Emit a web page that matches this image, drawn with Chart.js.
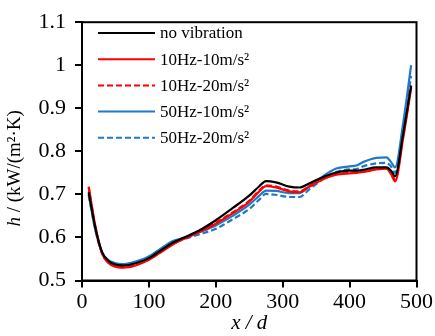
<!DOCTYPE html>
<html>
<head>
<meta charset="utf-8">
<script src="https://cdn.jsdelivr.net/npm/chart.js@4.4.1/dist/chart.umd.min.js"></script>
<style>
	html, body { margin: 0; padding: 0; background: #fff; }
	#wrap { width: 435px; height: 336px; }
</style>
</head>
<body>
<div id="wrap"><canvas id="hChart"></canvas></div>
<script>
// x/d positions shared by all curves
var xPos = [10, 20, 30, 40, 50, 60, 70, 80, 100, 120, 135, 150, 175, 200, 225, 250, 265, 275, 290, 310, 325, 340, 360, 380, 400, 410, 420, 440, 455, 462, 468, 480, 492];

var noVibration = [0.705, 0.622, 0.566, 0.545, 0.537, 0.535, 0.536, 0.540, 0.552, 0.572, 0.587, 0.598, 0.616, 0.640, 0.668, 0.697, 0.719, 0.731, 0.728, 0.718, 0.716, 0.726, 0.740, 0.751, 0.755, 0.755, 0.757, 0.763, 0.763, 0.755, 0.742, 0.840, 0.953];
var hz10_10 = [0.718, 0.626, 0.563, 0.540, 0.532, 0.530, 0.531, 0.535, 0.548, 0.568, 0.583, 0.595, 0.612, 0.632, 0.656, 0.683, 0.707, 0.719, 0.716, 0.707, 0.705, 0.718, 0.735, 0.746, 0.749, 0.750, 0.752, 0.758, 0.760, 0.747, 0.730, 0.830, 0.948];
var hz10_20 = [0.716, 0.624, 0.563, 0.541, 0.533, 0.531, 0.532, 0.536, 0.549, 0.569, 0.584, 0.596, 0.613, 0.634, 0.658, 0.685, 0.709, 0.721, 0.718, 0.709, 0.707, 0.719, 0.736, 0.747, 0.750, 0.751, 0.753, 0.759, 0.761, 0.750, 0.735, 0.835, 0.950];
var hz50_10 = [0.700, 0.618, 0.565, 0.547, 0.540, 0.538, 0.540, 0.544, 0.556, 0.576, 0.591, 0.598, 0.612, 0.628, 0.650, 0.676, 0.697, 0.709, 0.708, 0.703, 0.703, 0.720, 0.742, 0.760, 0.765, 0.767, 0.775, 0.785, 0.786, 0.775, 0.763, 0.865, 1.000];
var hz50_20 = [0.698, 0.617, 0.564, 0.546, 0.539, 0.537, 0.539, 0.543, 0.555, 0.575, 0.589, 0.595, 0.607, 0.620, 0.642, 0.666, 0.688, 0.701, 0.699, 0.694, 0.694, 0.712, 0.735, 0.752, 0.758, 0.759, 0.765, 0.772, 0.773, 0.765, 0.750, 0.855, 0.975];

var seriesLabels = ['no vibration', '10Hz-10m/s²', '10Hz-20m/s²', '50Hz-10m/s²', '50Hz-20m/s²'];

var SERIF = "'Liberation Serif', 'Times New Roman', serif";
var BLUE = '#1f78c8';

function pts(ys) {
	return xPos.map(function(x, i) { return { x: x, y: ys[i] }; });
}

function line(label, ys, color, dash) {
	return {
		label: label,
		data: pts(ys),
		borderColor: color,
		backgroundColor: color,
		borderWidth: 2.2,
		borderDash: dash,
		pointRadius: 0,
		fill: false,
		cubicInterpolationMode: 'monotone'
	};
}

// frame, legend and axis titles drawn on the canvas
var decorPlugin = {
	id: 'decor',
	afterDraw: function(chart) {
		var ctx = chart.ctx;
		var a = chart.chartArea;
		ctx.save();
		ctx.strokeStyle = '#000';
		ctx.lineWidth = 2;
		ctx.setLineDash([]);
		ctx.strokeRect(a.left, a.top, a.right - a.left, a.bottom - a.top);

		// legend
		var ds = chart.data.datasets;
		ctx.font = '17px ' + SERIF;
		ctx.textBaseline = 'middle';
		ctx.textAlign = 'left';
		for (var i = 0; i < ds.length; i++) {
			var y = 33 + i * 26.2;
			ctx.strokeStyle = ds[i].borderColor;
			ctx.lineWidth = 2;
			ctx.setLineDash(ds[i].borderDash || []);
			ctx.beginPath();
			ctx.moveTo(98, y);
			ctx.lineTo(155, y);
			ctx.stroke();
			ctx.fillStyle = '#000';
			ctx.fillText(ds[i].label, 160, y + 1);
		}
		ctx.setLineDash([]);

		// x axis title
		ctx.fillStyle = '#000';
		ctx.font = 'italic 21px ' + SERIF;
		ctx.textAlign = 'center';
		ctx.fillText('x / d', (a.left + a.right) / 2, 323);

		// y axis title: italic h, upright units
		ctx.save();
		ctx.translate(15, (a.top + a.bottom) / 2 + 17);
		ctx.rotate(-Math.PI / 2);
		ctx.textAlign = 'left';
		var p1 = 'h', p2 = ' / (kW/(m²·K)';
		ctx.font = 'italic 19px ' + SERIF;
		var w1 = ctx.measureText(p1).width;
		ctx.font = '19px ' + SERIF;
		var w2 = ctx.measureText(p2).width;
		var x0 = -(w1 + w2) / 2;
		ctx.font = 'italic 19px ' + SERIF;
		ctx.fillText(p1, x0, 0);
		ctx.font = '19px ' + SERIF;
		ctx.fillText(p2, x0 + w1, 0);
		ctx.restore();
		ctx.restore();
	}
};

var hChart = new Chart(document.getElementById('hChart'), {
	type: 'line',
	data: {
		datasets: [
			line(seriesLabels[0], noVibration, '#000000', []),
			line(seriesLabels[1], hz10_10, '#ff0000', []),
			line(seriesLabels[2], hz10_20, '#ff0000', [6, 3]),
			line(seriesLabels[3], hz50_10, BLUE, []),
			line(seriesLabels[4], hz50_20, BLUE, [6, 3])
		]
	},
	options: {
		responsive: true,
		maintainAspectRatio: false,
		animation: false,
		layout: { padding: { top: 13, right: 17, left: 0, bottom: 0 } },
		plugins: {
			legend: { display: false },
			tooltip: { enabled: false }
		},
		scales: {
			x: {
				type: 'linear',
				min: 0,
				max: 500,
				ticks: {
					stepSize: 100,
					color: '#000',
					padding: 2,
					maxRotation: 0,
					font: { family: SERIF, size: 22 }
				},
				grid: { drawOnChartArea: false, drawTicks: true, tickLength: 7, color: '#000', lineWidth: 2 },
				border: { display: true, color: '#000', width: 2 },
				afterFit: function(scale) { scale.height = 55.5; }
			},
			y: {
				min: 0.5,
				max: 1.1,
				ticks: {
					stepSize: 0.1,
					color: '#000',
					padding: 9,
					font: { family: SERIF, size: 22 },
					callback: function(v) { return String(Number(v.toFixed(1))); }
				},
				grid: { drawOnChartArea: false, drawTicks: true, tickLength: 7, color: '#000', lineWidth: 2 },
				border: { display: true, color: '#000', width: 2 },
				afterFit: function(scale) { scale.width = 82; }
			}
		}
	},
	plugins: [decorPlugin]
});
</script>
</body>
</html>
